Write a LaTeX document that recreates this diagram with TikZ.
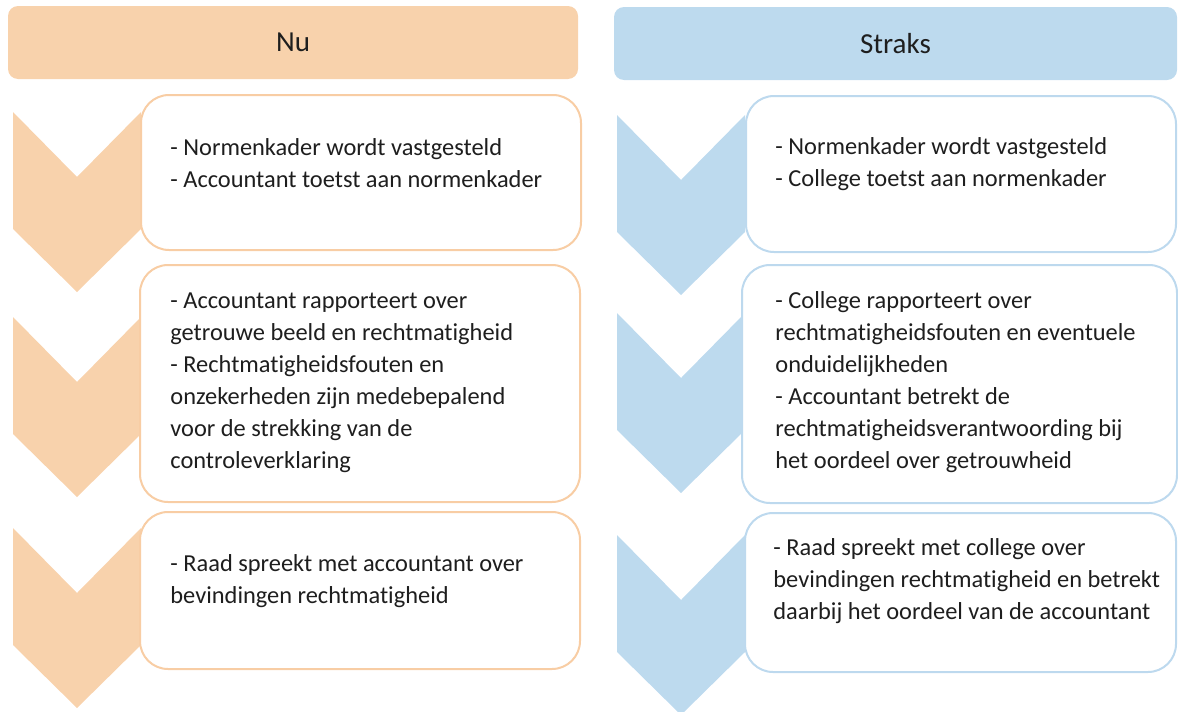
\documentclass[tikz,border=0pt]{standalone}
\usepackage{fontspec}
\setmainfont[Ligatures=NoCommon]{Carlito}
\usepackage{xcolor}
\usepackage{tikz}
\usetikzlibrary{positioning}
\definecolor{nuoranje}{HTML}{F8D2AC}
\definecolor{nurand}{HTML}{F8CDA4}
\definecolor{straksblauw}{HTML}{BDDAEE}
\definecolor{straksrand}{HTML}{BDD9EE}
\definecolor{tekstgrijs}{HTML}{1E1E1E}

\begin{document}
\begin{tikzpicture}[x=0.5pt,y=-0.5pt,
    kop/.style={rounded corners=5pt,inner sep=0pt,minimum height=36.5pt,font=\fontsize{14.5}{17}\selectfont,text=tekstgrijs},
    stap/.style={draw,line width=1pt,fill=white,rounded corners=14pt,inner sep=0pt},
    tekst/.style={anchor=west,align=left,inner sep=0pt,font=\fontsize{12.2}{16}\selectfont,text=tekstgrijs}]
    \useasboundingbox (0,0) rectangle (1178,712);

    \node [kop,fill=nuoranje,minimum width=285pt] (nu) at (293,42.5) {Nu};
    \node [kop,fill=straksblauw,minimum width=281.5pt] (straks) at (895.5,43.5) {Straks};

    \foreach \t in {112,317,528}
        \fill[nuoranje] (13,\t) -- (77,\t+65) -- (141,\t) -- (141,\t+117) -- (77,\t+180) -- (13,\t+117) -- cycle;
    \foreach \t in {115,313,535}
        \fill[straksblauw] (617,\t) -- (681,\t+65) -- (745,\t) -- (745,\t+117) -- (681,\t+180) -- (617,\t+117) -- cycle;

    \node [stap,draw=nurand,minimum width=220pt,minimum height=77.5pt] (nu1) at (361,172.5) {};
    \node [stap,draw=nurand,minimum width=220pt,minimum height=118.5pt] (nu2) at (360,383.5) {};
    \node [stap,draw=nurand,minimum width=220pt,minimum height=78.5pt] (nu3) at (360,590.5) {};
    \node [stap,draw=straksrand,minimum width=215pt,minimum height=78pt] (straks1) at (961,174) {};
    \node [stap,draw=straksrand,minimum width=217.5pt,minimum height=119pt] (straks2) at (959.5,384) {};
    \node [stap,draw=straksrand,minimum width=215.5pt,minimum height=79.5pt] (straks3) at (960.5,592.5) {};

    \node [tekst] (nu1tekst) at (170,163.5) {- Normenkader wordt vastgesteld\\- Accountant toetst aan normenkader};
    \node [tekst] (nu2tekst) at (170,382.5) {- Accountant rapporteert over\\getrouwe beeld en rechtmatigheid\\- Rechtmatigheidsfouten en\\onzekerheden zijn medebepalend\\voor de strekking van de\\controleverklaring};
    \node [tekst] (nu3tekst) at (170,581) {- Raad spreekt met accountant over\\bevindingen rechtmatigheid};
    \node [tekst] (straks1tekst) at (775,164.5) {- Normenkader wordt vastgesteld\\- College toetst aan normenkader};
    \node [tekst] (straks2tekst) at (775,382.5) {- College rapporteert over\\rechtmatigheidsfouten en eventuele\\onduidelijkheden\\- Accountant betrekt de\\rechtmatigheidsverantwoording bij\\het oordeel over getrouwheid};
    \node [tekst] (straks3tekst) at (773,581.5) {- Raad spreekt met college over\\bevindingen rechtmatigheid en betrekt\\daarbij het oordeel van de accountant};
\end{tikzpicture}
\end{document}
